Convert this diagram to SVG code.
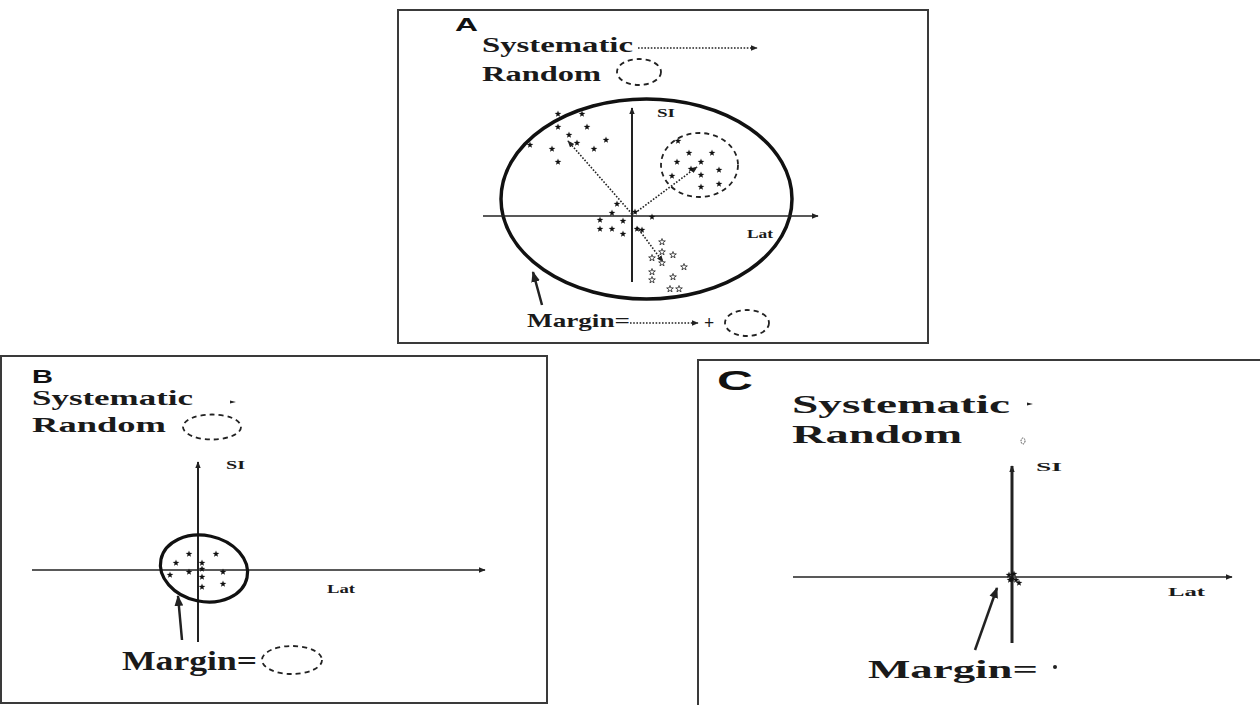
<svg xmlns="http://www.w3.org/2000/svg" width="1260" height="705" viewBox="0 0 1260 705">
<defs>
<style>
.frame{fill:none;stroke:#3a3a3a;stroke-width:2}
.t{font-family:"Liberation Serif",serif;font-weight:bold;fill:#1a1a1a}
.h{font-family:"Liberation Sans",sans-serif;font-weight:bold;fill:#111}
.ax{stroke:#222;fill:none}
.dot{stroke:#222;stroke-width:1.6;stroke-dasharray:1.6 1.6;fill:none}
.dash{stroke:#222;stroke-width:1.8;stroke-dasharray:5 4;fill:none}
.ptr{stroke:#222;stroke-width:2.5;fill:none}
</style>
<marker id="ah" viewBox="0 0 10 10" refX="9" refY="5" markerWidth="7" markerHeight="7" markerUnits="userSpaceOnUse" orient="auto"><path d="M0,1 L10,5 L0,9 Z" fill="#222"/></marker>
<marker id="ahB" viewBox="0 0 10 10" refX="9" refY="5" markerWidth="11" markerHeight="11" markerUnits="userSpaceOnUse" orient="auto"><path d="M0,1 L10,5 L0,9 Z" fill="#222"/></marker>
<path id="st" d="M0,-3.5 L0.82,-1.13 L3.33,-1.08 L1.33,0.43 L2.06,2.83 L0,1.4 L-2.06,2.83 L-1.33,0.43 L-3.33,-1.08 L-0.82,-1.13 Z"/>
</defs>
<rect width="1260" height="705" fill="#fff"/>

<g id="panelA">
<rect class="frame" x="398" y="10" width="530" height="333"/>
<text class="h" x="455" y="31" font-size="19" textLength="23" lengthAdjust="spacingAndGlyphs">A</text>
<text class="t" x="482" y="52" font-size="20" textLength="151" lengthAdjust="spacingAndGlyphs">Systematic</text>
<line class="dot" x1="638" y1="48" x2="757" y2="48" marker-end="url(#ah)"/>
<text class="t" x="482" y="81" font-size="20" textLength="119" lengthAdjust="spacingAndGlyphs">Random</text>
<ellipse class="dash" cx="639" cy="72" rx="22" ry="13"/>
<ellipse cx="646.5" cy="199" rx="145.5" ry="100" fill="none" stroke="#111" stroke-width="3.5"/>
<line class="ax" x1="483" y1="216" x2="818" y2="216" stroke-width="1.6" marker-end="url(#ah)"/>
<line class="ax" x1="632" y1="282" x2="632" y2="108" stroke-width="2" marker-end="url(#ah)"/>
<text class="t" x="657" y="117" font-size="12" textLength="18" lengthAdjust="spacingAndGlyphs">SI</text>
<text class="t" x="747" y="238" font-size="12" textLength="26" lengthAdjust="spacingAndGlyphs">Lat</text>
<ellipse class="dash" cx="699.5" cy="165" rx="38.5" ry="32"/>
<line class="dot" x1="632" y1="214" x2="568" y2="141" marker-end="url(#ah)"/>
<line class="dot" x1="635" y1="213" x2="697" y2="167" marker-end="url(#ah)"/>
<line class="dot" x1="637" y1="227" x2="663" y2="262" marker-end="url(#ah)"/>
<g fill="#111">
<use href="#st" x="558" y="114"/><use href="#st" x="582" y="114"/><use href="#st" x="558" y="127"/><use href="#st" x="587" y="127"/>
<use href="#st" x="569" y="135"/><use href="#st" x="577" y="143"/><use href="#st" x="606" y="140"/><use href="#st" x="552" y="149"/>
<use href="#st" x="594" y="149"/><use href="#st" x="558" y="162"/><use href="#st" x="530" y="145"/>
<use href="#st" x="617" y="204"/><use href="#st" x="612" y="213"/><use href="#st" x="635" y="212"/><use href="#st" x="652" y="217"/>
<use href="#st" x="600" y="220"/><use href="#st" x="623" y="221"/><use href="#st" x="600" y="229"/><use href="#st" x="612" y="229"/>
<use href="#st" x="623" y="234"/><use href="#st" x="637" y="229"/><use href="#st" x="642" y="230"/>
<use href="#st" x="678" y="141"/><use href="#st" x="689" y="153"/><use href="#st" x="712" y="153"/><use href="#st" x="677" y="162"/>
<use href="#st" x="701" y="162"/><use href="#st" x="691" y="169"/><use href="#st" x="719" y="170"/><use href="#st" x="701" y="175"/>
<use href="#st" x="672" y="176"/><use href="#st" x="701" y="187"/><use href="#st" x="719" y="184"/>
</g>
<g fill="#fff" stroke="#222" stroke-width="0.8">
<use href="#st" x="662" y="242"/><use href="#st" x="662" y="252"/><use href="#st" x="673" y="255"/><use href="#st" x="662" y="263"/>
<use href="#st" x="684" y="267"/><use href="#st" x="652" y="258"/><use href="#st" x="652" y="272"/><use href="#st" x="652" y="280"/>
<use href="#st" x="673" y="277"/><use href="#st" x="670" y="289"/><use href="#st" x="679" y="289"/>
</g>
<line class="ptr" x1="542" y1="305" x2="533" y2="272" marker-end="url(#ahB)"/>
<text class="t" x="527" y="327" font-size="19" textLength="103" lengthAdjust="spacingAndGlyphs">Margin=</text>
<line class="dot" x1="630" y1="323" x2="698" y2="323" marker-end="url(#ah)"/>
<text class="t" x="704" y="329" font-size="18">+</text>
<ellipse class="dash" cx="747" cy="323" rx="22" ry="13"/>
</g>

<g id="panelB">
<rect class="frame" x="1" y="356" width="546" height="347"/>
<text class="h" x="32" y="383" font-size="19" textLength="21" lengthAdjust="spacingAndGlyphs">B</text>
<text class="t" x="32" y="405" font-size="20" textLength="161" lengthAdjust="spacingAndGlyphs">Systematic</text>
<path d="M230,400.5 L236,402 L230,403.5 Z" fill="#222"/>
<text class="t" x="32" y="432" font-size="20" textLength="134" lengthAdjust="spacingAndGlyphs">Random</text>
<ellipse class="dash" cx="212" cy="427" rx="29" ry="12.5"/>
<line class="ax" x1="32" y1="570" x2="485" y2="570" stroke-width="1.6" marker-end="url(#ah)"/>
<line class="ax" x1="198" y1="642" x2="198" y2="462" stroke-width="2" marker-end="url(#ah)"/>
<text class="t" x="226" y="469" font-size="12" textLength="19" lengthAdjust="spacingAndGlyphs">SI</text>
<text class="t" x="327" y="593" font-size="12" textLength="28" lengthAdjust="spacingAndGlyphs">Lat</text>
<ellipse cx="204" cy="568.5" rx="44" ry="33" transform="rotate(12 204 568.5)" fill="none" stroke="#111" stroke-width="3.2"/>
<g fill="#111">
<use href="#st" x="189" y="554"/><use href="#st" x="216" y="554"/><use href="#st" x="176" y="563"/><use href="#st" x="202" y="563"/>
<use href="#st" x="189" y="572"/><use href="#st" x="202" y="569"/><use href="#st" x="223" y="572"/><use href="#st" x="170" y="575"/>
<use href="#st" x="202" y="577"/><use href="#st" x="223" y="584"/><use href="#st" x="202" y="587"/>
</g>
<line class="ptr" x1="182" y1="640" x2="178" y2="596" marker-end="url(#ahB)"/>
<text class="t" x="122" y="670" font-size="27" textLength="135" lengthAdjust="spacingAndGlyphs">Margin=</text>
<ellipse class="dash" cx="292" cy="660" rx="30" ry="14"/>
</g>

<g id="panelC">
<rect class="frame" x="698" y="360" width="600" height="400"/>
<text class="h" x="717" y="390" font-size="27" textLength="36" lengthAdjust="spacingAndGlyphs">C</text>
<text class="t" x="792" y="413" font-size="26" textLength="218" lengthAdjust="spacingAndGlyphs">Systematic</text>
<path d="M1027,402.5 L1033,404 L1027,405.5 Z" fill="#222"/>
<text class="t" x="792" y="443" font-size="26" textLength="170" lengthAdjust="spacingAndGlyphs">Random</text>
<ellipse cx="1023" cy="441" rx="2" ry="3" fill="none" stroke="#444" stroke-width="1" stroke-dasharray="1.5 1"/>
<line class="ax" x1="793" y1="577" x2="1232" y2="577" stroke-width="1.6" marker-end="url(#ah)"/>
<line class="ax" x1="1012" y1="643" x2="1012" y2="466" stroke-width="3" marker-end="url(#ah)"/>
<text class="t" x="1036" y="471" font-size="13" textLength="26" lengthAdjust="spacingAndGlyphs">SI</text>
<text class="t" x="1168" y="596" font-size="13" textLength="37" lengthAdjust="spacingAndGlyphs">Lat</text>
<g fill="#111">
<use href="#st" x="1009" y="575"/><use href="#st" x="1014" y="574"/><use href="#st" x="1012" y="579"/><use href="#st" x="1016" y="580"/><use href="#st" x="1010" y="580"/><use href="#st" x="1019" y="583"/>
</g>
<line class="ptr" x1="975" y1="650" x2="997" y2="588" marker-end="url(#ahB)"/>
<text class="t" x="868" y="678" font-size="26" textLength="170" lengthAdjust="spacingAndGlyphs">Margin=</text>
<circle cx="1055" cy="667" r="2" fill="#222"/>
</g>
</svg>
